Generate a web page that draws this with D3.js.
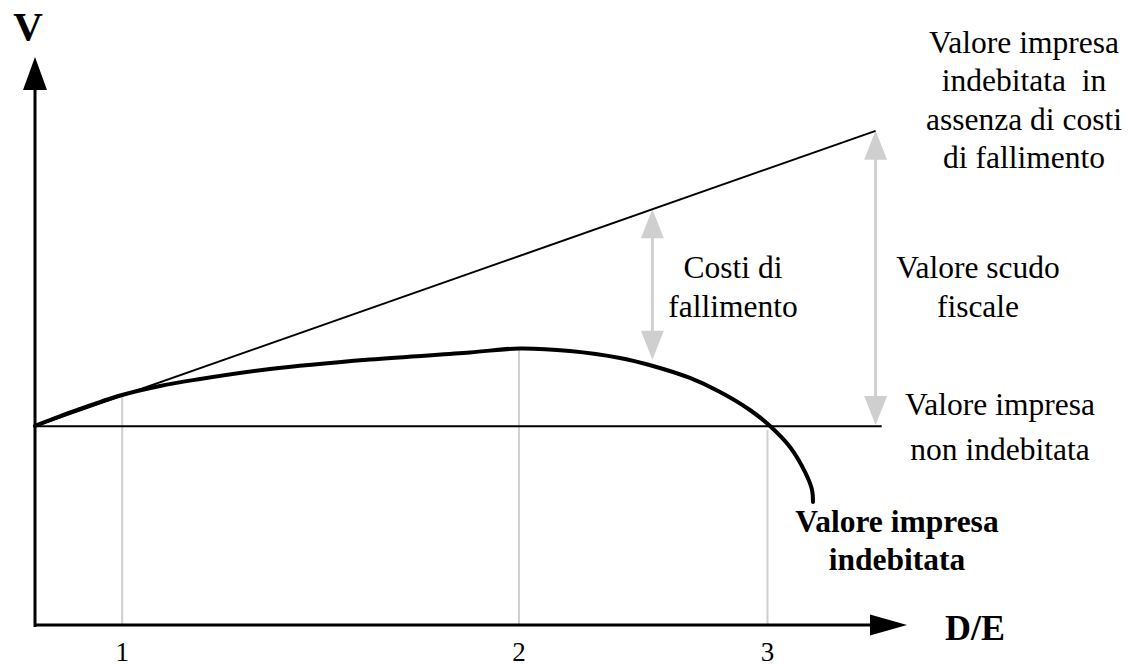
<!DOCTYPE html>
<html>
<head>
<meta charset="utf-8">
<script src="https://cdn.jsdelivr.net/npm/d3@7"></script>
<style>
  body { margin: 0; background: #fff; }
  svg text { font-family: "Liberation Serif", "Times New Roman", serif; fill: #000; }
</style>
</head>
<body>
<div id="chartDivId"></div>
<script>
// D/E and V are in abstract units (0..100 on both axes)
const xTicks = [10, 55.5, 84];
const xTickLabels = ["1", "2", "3"];

const unleveredValue = 35;          // Valore impresa non indebitata
const unleveredEnd = 97.1;
const noCostLine = [[0, 35], [96.4, 87]];   // senza costi di fallimento

const leveredX = [0, 5.16, 9.98, 14.33, 18.58, 26.95, 38.42, 49.89, 55.5,
                  61.35, 67.09, 70.87, 75.11, 78.56, 81.99, 84.29, 86.58, 88.3, 89.11, 89.22];
const leveredY = [35.04, 38.03, 40.49, 42.08, 43.22, 45.07, 46.74, 47.98, 48.68,
                  48.24, 47.01, 45.6, 43.49, 41.02, 37.85, 35.04, 31.34, 26.94, 23.77, 21.65];

const guideTops = [40.5, 48.7, 34.3];

const costArrow = { x: 70.8, from: 73.2, to: 46.7 };
const shieldArrow = { x: 96.4, from: 87, to: 35.2 };

const labelTopRight = ["Valore impresa", "indebitata  in", "assenza di costi", "di fallimento"];
const labelCosts = ["Costi di", "fallimento"];
const labelShield = ["Valore scudo", "fiscale"];
const labelUnlevered = ["Valore impresa", "non indebitata"];
const labelLevered = ["Valore impresa", "indebitata"];

const width = 1131, height = 669;
const gray = "#cfcfcf";

const svg = d3.select("#chartDivId")
    .append("svg")
    .attr("width", width)
    .attr("height", height);

const x = d3.scaleLinear().domain([0, 100]).range([35, 907]);
const y = d3.scaleLinear().domain([0, 100]).range([625, 57]);

// arrow head as a filled triangle, tip at (tx, ty)
function arrowHead(tx, ty, dir, len, w, color) {
    let pts;
    if (dir === "up") pts = [[tx, ty], [tx - w / 2, ty + len], [tx + w / 2, ty + len]];
    if (dir === "down") pts = [[tx, ty], [tx - w / 2, ty - len], [tx + w / 2, ty - len]];
    if (dir === "right") pts = [[tx, ty], [tx - len, ty - w / 2], [tx - len, ty + w / 2]];
    svg.append("path")
        .attr("d", "M" + pts.join("L") + "Z")
        .style("fill", color);
}

// Gray guide lines at the ticks
svg.selectAll(".guide")
    .data(xTicks)
    .enter().append("line")
    .attr("class", "guide")
    .attr("x1", d => x(d)).attr("x2", d => x(d))
    .attr("y1", y(0)).attr("y2", (d, i) => y(guideTops[i]))
    .style("stroke", gray).style("stroke-width", 2);

// Gray double arrows
[costArrow, shieldArrow].forEach(a => {
    svg.append("line")
        .attr("x1", x(a.x)).attr("x2", x(a.x))
        .attr("y1", y(a.from) + 20).attr("y2", y(a.to) - 20)
        .style("stroke", gray).style("stroke-width", 3);
    arrowHead(x(a.x), y(a.from), "up", 29, 23, gray);
    arrowHead(x(a.x), y(a.to), "down", 29, 23, gray);
});

// Unlevered firm value
svg.append("line")
    .attr("x1", x(0)).attr("x2", x(unleveredEnd))
    .attr("y1", y(unleveredValue)).attr("y2", y(unleveredValue))
    .style("stroke", "#000").style("stroke-width", 2);

// Levered value without distress costs
svg.append("line")
    .attr("x1", x(noCostLine[0][0])).attr("y1", y(noCostLine[0][1]))
    .attr("x2", x(noCostLine[1][0])).attr("y2", y(noCostLine[1][1]))
    .style("stroke", "#000").style("stroke-width", 2);

// Levered firm value
const curve = d3.line()
    .x(d => x(d[0]))
    .y(d => y(d[1]))
    .curve(d3.curveCatmullRom.alpha(0.5));

svg.append("path")
    .datum(leveredX.map((v, i) => [v, leveredY[i]]))
    .attr("d", curve)
    .style("fill", "none")
    .style("stroke", "#000")
    .style("stroke-width", 4)
    .style("stroke-linecap", "round");

// Axes
svg.append("line")
    .attr("x1", x(0)).attr("x2", x(100) - 36)
    .attr("y1", y(0)).attr("y2", y(0))
    .style("stroke", "#000").style("stroke-width", 3);
svg.append("line")
    .attr("x1", x(0)).attr("x2", x(0))
    .attr("y1", y(0) + 2).attr("y2", y(100) + 32)
    .style("stroke", "#000").style("stroke-width", 3);
arrowHead(x(100), y(0), "right", 37, 21, "#000");
arrowHead(x(0), y(100), "up", 33, 24, "#000");

svg.append("text")
    .attr("x", 28).attr("y", 40)
    .attr("text-anchor", "middle")
    .style("font-size", "41px").style("font-weight", "bold")
    .text("V");

svg.append("text")
    .attr("x", 975).attr("y", 640)
    .attr("text-anchor", "middle")
    .style("font-size", "36px").style("font-weight", "bold")
    .text("D/E");

svg.selectAll(".ticklabel")
    .data(xTicks)
    .enter().append("text")
    .attr("class", "ticklabel")
    .attr("x", d => x(d))
    .attr("y", 661)
    .attr("text-anchor", "middle")
    .style("font-size", "27px")
    .text((d, i) => xTickLabels[i]);

// Multi-line text blocks
function block(lines, cx, top, step, bold) {
    svg.append("text")
        .attr("text-anchor", "middle")
        .style("font-size", "31.5px")
        .style("font-weight", bold ? "bold" : "normal")
        .style("white-space", "pre")
        .selectAll("tspan")
        .data(lines)
        .enter().append("tspan")
        .attr("x", cx)
        .attr("y", (d, i) => top + i * step)
        .text(d => d);
}

block(labelTopRight, 1024, 53, 38.3, false);
block(labelCosts, 733, 278, 39, false);
block(labelShield, 978, 278, 39, false);
block(labelUnlevered, 1000, 415, 45, false);
block(labelLevered, 897, 532, 38, true);
</script>
</body>
</html>
